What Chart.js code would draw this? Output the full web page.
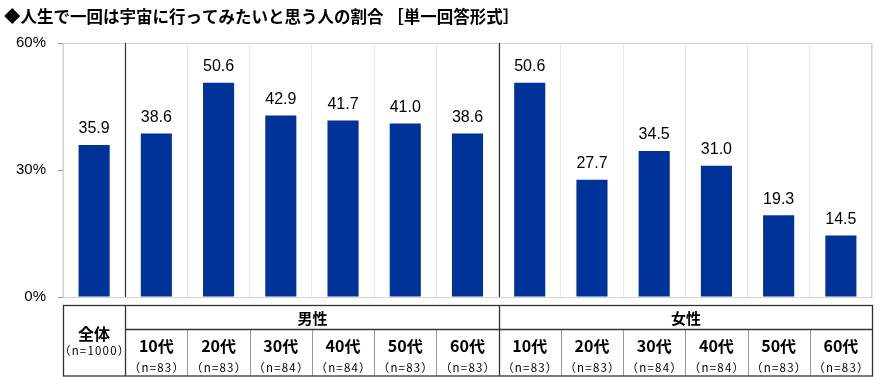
<!DOCTYPE html>
<html>
<head>
<meta charset="utf-8">
<script src="https://cdn.jsdelivr.net/npm/chart.js@4/dist/chart.umd.min.js"></script>
<style>
  html, body { margin: 0; padding: 0; background: #fff; }
  #wrap { width: 880px; height: 377px; position: relative; }
</style>
</head>
<body>
<div id="wrap"><canvas id="c"></canvas></div>
<script>
// 人生で一回は宇宙に行ってみたいと思う人の割合

const title    = "◆人生で一回は宇宙に行ってみたいと思う人の割合 ［単一回答形式］";
const ages     = ["全体", "10代", "20代", "30代", "40代", "50代", "60代", "10代", "20代", "30代", "40代", "50代", "60代"];
const samples  = [1000, 83, 83, 84, 84, 83, 83, 83, 83, 84, 84, 83, 83];
const values   = [35.9, 38.6, 50.6, 42.9, 41.7, 41.0, 38.6, 50.6, 27.7, 34.5, 31.0, 19.3, 14.5];
const groups   = [{ name: "男性", from: 1, to: 6 }, { name: "女性", from: 7, to: 12 }];
const yTicks   = [0, 30, 60];

const BAR  = "#003399";
const DARK = "#333333";
const JP   = "'Noto Sans CJK JP', sans-serif";
const NUM  = "'Liberation Sans', Arial, sans-serif";

// title, frame, dividers, value labels, bottom table
const decor = {
    id: "decor",
    beforeDatasetsDraw: function (chart) {
        const c = chart.ctx, a = chart.chartArea;
        c.save();
        c.strokeStyle = "#d4d4d4"; c.lineWidth = 1;
        c.strokeRect(a.left + 0.5, a.top + 0.5, a.right - a.left - 1, a.bottom - a.top);
        c.restore();
    },
    afterDraw: function (chart) {
        const c = chart.ctx, a = chart.chartArea, x = chart.scales.x;
        const step = (a.right - a.left) / ages.length;
        const edge = function (i) { return Math.round(a.left + i * step) + 0.5; };
        c.save();

        // title
        c.fillStyle = "#000"; c.textAlign = "left"; c.textBaseline = "middle";
        c.font = "bold 16.5px " + JP;
        c.fillText(title, 4, 17);

        // dark dividers between 全体 / 男性 / 女性
        c.strokeStyle = DARK; c.lineWidth = 1.2;
        [1, 7].forEach(function (i) {
            c.beginPath(); c.moveTo(edge(i), a.top); c.lineTo(edge(i), a.bottom); c.stroke();
        });

        // value labels
        const meta = chart.getDatasetMeta(0);
        c.font = "16px " + NUM; c.textAlign = "center"; c.textBaseline = "bottom";
        c.fillStyle = "#000";
        meta.data.forEach(function (bar, i) {
            c.fillText(values[i].toFixed(1), bar.x, bar.y - 8);
        });

        // table
        const t0 = 305, t1 = 329, t2 = 376;
        c.lineWidth = 1;
        c.strokeStyle = "#999";
        for (let i = 2; i < ages.length; i++) {
            if (i === 7) continue;
            c.beginPath(); c.moveTo(edge(i), t1); c.lineTo(edge(i), t2); c.stroke();
        }
        c.strokeStyle = DARK; c.lineWidth = 1.3;
        c.strokeRect(edge(0), t0 + 0.5, edge(ages.length) - edge(0), t2 - t0 - 0.5);
        c.beginPath(); c.moveTo(edge(1), t1 + 0.5); c.lineTo(edge(ages.length), t1 + 0.5); c.stroke();
        [1, 7].forEach(function (i) {
            c.beginPath(); c.moveTo(edge(i), t0); c.lineTo(edge(i), t2); c.stroke();
        });

        c.fillStyle = "#000"; c.textBaseline = "middle"; c.textAlign = "center";
        groups.forEach(function (g) {
            c.font = "bold 15px " + JP;
            c.fillText(g.name, (edge(g.from) + edge(g.to + 1)) / 2, (t0 + t1) / 2 + 1);
        });
        ages.forEach(function (lab, i) {
            const cx = x.getPixelForValue(i);
            const top = i === 0 ? 334 : 346;
            const bot = i === 0 ? 351 : 368;
            c.letterSpacing = "0px";
            c.font = "bold 16px " + JP;
            c.fillText(lab, cx, top);
            c.letterSpacing = "1.2px";
            c.font = "11.5px " + JP;
            c.fillText("（n=" + samples[i] + "）", cx + 0.6, bot);
        });
        c.restore();
    }
};

new Chart(document.getElementById("c"), {
    type: "bar",
    data: {
        labels: ages,
        datasets: [{ data: values, backgroundColor: BAR, borderWidth: 0, barPercentage: 0.5, categoryPercentage: 1.0 }]
    },
    options: {
        responsive: true,
        maintainAspectRatio: false,
        animation: false,
        layout: { padding: { top: 43, bottom: 80, right: 8, left: 0 } },
        plugins: { legend: { display: false }, tooltip: { enabled: false }, title: { display: false } },
        scales: {
            x: {
                ticks: { display: false },
                grid: { color: "#e6e6e6", drawTicks: false, offset: true },
                border: { display: false }
            },
            y: {
                min: 0, max: 60,
                afterBuildTicks: function (s) { s.ticks = yTicks.map(function (v) { return { value: v }; }); },
                afterFit: function (s) { s.width = 63; },
                ticks: {
                    padding: 12, color: "#000",
                    font: { family: NUM, size: 15 },
                    callback: function (v) { return v + "%"; }
                },
                grid: { drawOnChartArea: false, tickLength: 5, color: "#999" },
                border: { color: "#999" }
            }
        }
    },
    plugins: [decor]
});
</script>
</body>
</html>
